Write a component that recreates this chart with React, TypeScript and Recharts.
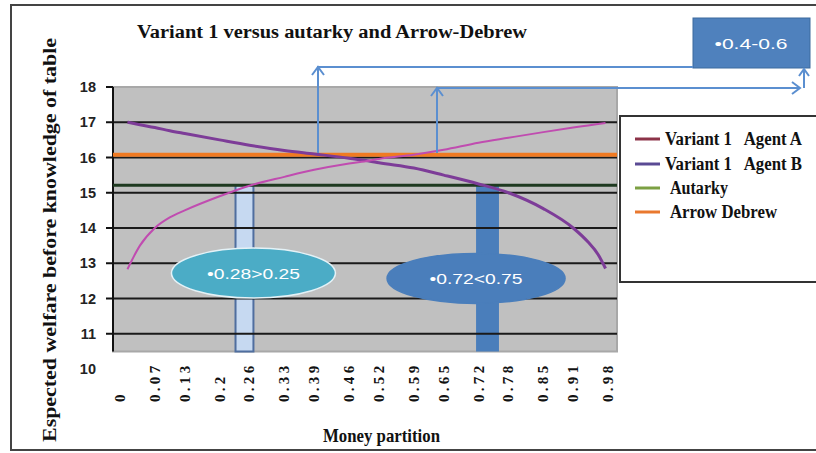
import React from 'react';
import {
  ComposedChart,
  Line,
  XAxis,
  YAxis,
  ReferenceLine,
  ReferenceArea,
  ReferenceDot,
} from 'recharts';

// money partition points and expected welfare of both agents
const partition = [0.015, 0.04, 0.07, 0.1, 0.13, 0.2, 0.26, 0.33, 0.39, 0.46, 0.5, 0.52, 0.59, 0.65, 0.72, 0.78, 0.85, 0.91, 0.94, 0.96, 0.975];
const agentA = [12.83, 13.5, 14.0, 14.3, 14.5, 14.9, 15.2, 15.45, 15.65, 15.83, 15.91, 15.96, 16.08, 16.22, 16.42, 16.56, 16.72, 16.85, 16.91, 16.95, 16.98];
const agentB = [17.0, 16.93, 16.85, 16.76, 16.68, 16.5, 16.35, 16.2, 16.1, 15.98, 15.9, 15.85, 15.7, 15.5, 15.25, 15.0, 14.55, 14.0, 13.6, 13.25, 12.85];

const autarky = 15.21;
const arrowDebrew = 16.08;

const xTicks = [0, 0.07, 0.13, 0.2, 0.26, 0.33, 0.39, 0.46, 0.52, 0.59, 0.65, 0.72, 0.78, 0.85, 0.91, 0.98];
const yTicks = [10, 11, 12, 13, 14, 15, 16, 17, 18];
const gridValues = [11, 12, 13, 14, 15, 16, 17];

// callouts: [x1, x2, top] for the bars, [x, y, label] for the ellipses
const barLow = [0.232, 0.268, 15.21];
const barHigh = [0.715, 0.761, 15.24];
const ovalLow = { x: 0.268, y: 12.72, label: '\u20220.28>0.25' };
const ovalHigh = { x: 0.715, y: 12.57, label: '\u20220.72<0.75' };

const legendItems = [
  { name: 'Variant 1   Agent A', color: '#8C3348', len: 137, tx: 665 },
  { name: 'Variant 1   Agent B', color: '#5A4A94', len: 137, tx: 665 },
  { name: 'Autarky', color: '#7CA043', len: 58, tx: 670 },
  { name: 'Arrow Debrew', color: '#E9782F', len: 107, tx: 670 },
];

const xMin = -0.014;
const xMax = 0.998;
const plotBottom = 10.5;

const serif = "'Times New Roman', 'Liberation Serif', serif";
const sans = "'Liberation Sans', Arial, sans-serif";

const data = partition.map((x, i) => ({ x, a: agentA[i], b: agentB[i] }));

const XTick = (props: any) => {
  const { x, payload } = props;
  const y = 402;
  return (
    <text
      x={x}
      y={y}
      transform={`rotate(-90, ${x}, ${y})`}
      textAnchor="start"
      dominantBaseline="central"
      fontFamily={serif}
      fontWeight="bold"
      fontSize={15}
      letterSpacing={3.3}
      fill="#111"
    >
      {String(payload.value)}
    </text>
  );
};

const YTick = (props: any) => {
  const { x, y, payload } = props;
  return (
    <g>
      {payload.value !== 10 && (
        <line x1={x - 7} x2={x} y1={y} y2={y} stroke="#111" strokeWidth={2} />
      )}
      <text
        x={x - 17}
        y={y}
        textAnchor="end"
        dominantBaseline="central"
        fontFamily={sans}
        fontWeight="bold"
        fontSize={14.5}
        fill="#222"
      >
        {payload.value}
      </text>
    </g>
  );
};

const oval = (fill: string, stroke: string, label: string, rx: number) => (p: any) => (
  <g>
    <ellipse cx={p.cx} cy={p.cy} rx={rx} ry={25} fill={fill} stroke={stroke} strokeWidth={1.5} />
    <text
      x={p.cx}
      y={p.cy}
      textAnchor="middle"
      dominantBaseline="central"
      fontFamily={sans}
      fontSize={15}
      fill="#fff"
      textLength={93}
      lengthAdjust="spacingAndGlyphs"
    >
      {label}
    </text>
  </g>
);

export default function App() {
  return (
    <div style={{ position: 'absolute', left: 0, top: 0, width: 816, height: 453, background: '#fff' }}>
      <ComposedChart
        width={816}
        height={453}
        data={data}
        margin={{ top: 87, right: 199, bottom: 54, left: 53 }}
      >
        <XAxis
          dataKey="x"
          type="number"
          domain={[xMin, xMax]}
          allowDataOverflow
          ticks={xTicks}
          interval={0}
          height={30}
          axisLine={false}
          tickLine={false}
          tickSize={0}
          tickMargin={0}
          tick={<XTick />}
        />
        <YAxis
          type="number"
          domain={[10, 18]}
          ticks={yTicks}
          interval={0}
          width={60}
          axisLine={false}
          tickLine={false}
          tickSize={0}
          tickMargin={0}
          tick={<YTick />}
        />
        <ReferenceArea
          x1={xMin}
          x2={xMax}
          y1={plotBottom}
          y2={18}
          fill="#C0C0C0"
          fillOpacity={1}
          stroke="#A8A8A8"
          strokeWidth={2}
        />
        {gridValues.map((v) => (
          <ReferenceLine key={v} y={v} stroke="#1A1A1A" strokeWidth={2} />
        ))}
        <ReferenceLine
          segment={[{ x: xMin, y: plotBottom }, { x: xMin, y: 18 }]}
          stroke="#111"
          strokeWidth={2}
        />
        <ReferenceArea
          x1={barLow[0]}
          x2={barLow[1]}
          y1={plotBottom}
          y2={barLow[2]}
          fill="#C6D9F1"
          fillOpacity={1}
          stroke="#4F6E9F"
          strokeWidth={2}
        />
        <ReferenceArea
          x1={barHigh[0]}
          x2={barHigh[1]}
          y1={plotBottom}
          y2={barHigh[2]}
          fill="#4A7EBB"
          fillOpacity={1}
        />
        <ReferenceLine y={autarky} stroke="#1E3A20" strokeWidth={3} />
        <ReferenceLine y={arrowDebrew} stroke="#F07A22" strokeWidth={4} />
        <Line
          dataKey="b"
          type="monotone"
          stroke="#7D3C98"
          strokeWidth={3}
          dot={false}
          isAnimationActive={false}
        />
        <Line
          dataKey="a"
          type="monotone"
          stroke="#C04CB0"
          strokeWidth={2}
          dot={false}
          isAnimationActive={false}
        />
        <ReferenceDot
          x={ovalLow.x}
          y={ovalLow.y}
          r={1}
          shape={oval('#4BACC6', '#E4F2F7', ovalLow.label, 82)}
        />
        <ReferenceDot
          x={ovalHigh.x}
          y={ovalHigh.y}
          r={1}
          shape={oval('#4A7EBB', '#4A7EBB', ovalHigh.label, 89)}
        />
      </ComposedChart>

      <svg
        width={816}
        height={453}
        style={{ position: 'absolute', left: 0, top: 0, pointerEvents: 'none' }}
      >
        <rect x={11} y={5} width={820} height={445} fill="none" stroke="#444" strokeWidth={2} />
        <text
          x={137}
          y={38}
          fontFamily={serif}
          fontWeight="bold"
          fontSize={18}
          textLength={390}
          lengthAdjust="spacingAndGlyphs"
          fill="#111"
        >
          Variant 1 versus autarky and Arrow-Debrew
        </text>
        <text
          x={50}
          y={240}
          transform="rotate(-90, 50, 240)"
          textAnchor="middle"
          dominantBaseline="central"
          fontFamily={serif}
          fontWeight="bold"
          fontSize={18}
          textLength={404}
          lengthAdjust="spacingAndGlyphs"
          fill="#111"
        >
          Espected welfare before knowledge of table
        </text>
        <text
          x={323}
          y={442}
          fontFamily={serif}
          fontWeight="bold"
          fontSize={19}
          textLength={117}
          lengthAdjust="spacingAndGlyphs"
          fill="#111"
        >
          Money partition
        </text>

        {/* legend */}
        <rect x={620} y={116} width={220} height={166} fill="#fff" stroke="#333" strokeWidth={2} />
        {legendItems.map((it, i) => {
          const cy = [139, 164, 188, 212][i];
          return (
            <g key={it.name}>
              <line x1={635} x2={660} y1={cy} y2={cy} stroke={it.color} strokeWidth={3} />
              <text
                x={it.tx}
                y={cy + 6}
                fontFamily={serif}
                fontWeight="bold"
                fontSize={18}
                textLength={it.len}
                lengthAdjust="spacingAndGlyphs"
                style={{ whiteSpace: 'pre' }}
                fill="#111"
              >
                {it.name}
              </text>
            </g>
          );
        })}

        {/* 0.4-0.6 callout */}
        <rect x={693} y={18} width={117} height={50} fill="#4F81BD" stroke="#3D6A9E" strokeWidth={1} />
        <text
          x={751}
          y={43}
          textAnchor="middle"
          dominantBaseline="central"
          fontFamily={sans}
          fontSize={15}
          fill="#fff"
          textLength={73}
          lengthAdjust="spacingAndGlyphs"
        >
          {'\u20220.4-0.6'}
        </text>
        <g stroke="#5B8FD0" strokeWidth={2} fill="none">
          <path d="M693 67 H318 V153" />
          <polyline points="312,75 318,67 324,75" />
          <path d="M437 153 V88 H800" />
          <polyline points="431,96 437,88 443,96" />
          <polyline points="792,82 800,88 792,94" />
          <path d="M804 88 V70" />
          <polyline points="799,76 804,69 809,76" />
        </g>
      </svg>
    </div>
  );
}
